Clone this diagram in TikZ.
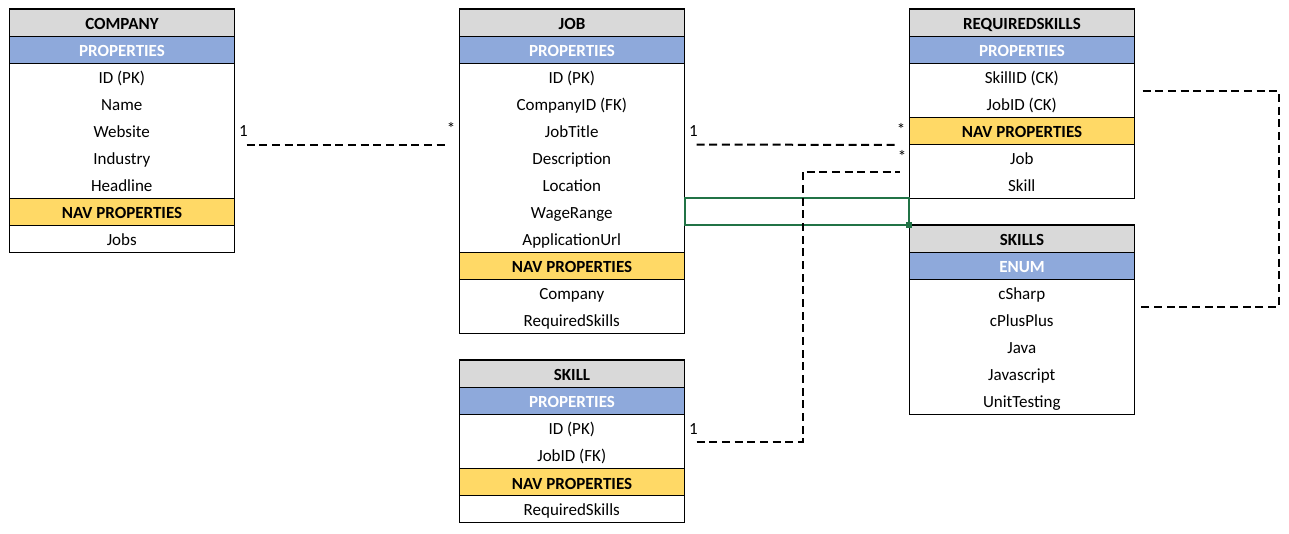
\documentclass[tikz,border=0pt]{standalone}
\usepackage{fontspec}
\setmainfont{Carlito}
\usetikzlibrary{positioning}
\definecolor{hdrgray}{HTML}{D9D9D9}
\definecolor{propblue}{HTML}{8EA9DB}
\definecolor{navyellow}{HTML}{FFD966}
\definecolor{selgreen}{HTML}{217346}
\newcommand\efont{\fontsize{12.75}{15}\selectfont}
\tikzset{
  ecell/.style={minimum width=168.75pt, minimum height=20.25pt, inner sep=0pt,
    anchor=north west, font=\efont, text=black, text depth=0pt},
  erow/.style={ecell},
  ehdr/.style={ecell, fill=hdrgray, draw=black, line width=0.75pt, font=\efont\bfseries},
  eprop/.style={ecell, fill=propblue, draw=black, line width=0.75pt, text=white, font=\efont\bfseries},
  enav/.style={ecell, fill=navyellow, draw=black, line width=0.75pt, font=\efont\bfseries},
  eborder/.style={draw=black, line width=0.75pt},
  rel/.style={draw=black, line width=1.5pt, dash pattern=on 6pt off 3.5pt},
  lbl/.style={inner sep=0pt, font=\efont, text=black},
  selbox/.style={draw=selgreen, line width=1.5pt}
}
% #1 name, #2 x, #3 y (px), #4 number of rows, #5 list style/text
\newcommand\ertable[5]{%
  \foreach \s/\t [count=\i] in {#5} {
    \node[\s] (#1-\i) at (#2, {#3+27*(\i-1)}) {\strut\t};
  }
  \draw[eborder] (#1-1.north west) rectangle (#1-#4.south east);
}
\begin{document}
\begin{tikzpicture}[x=0.75pt, y=-0.75pt]
\useasboundingbox[fill=white] (0,0) rectangle (1289,534);

\ertable{company}{9}{9}{9}{ehdr/COMPANY, eprop/PROPERTIES, erow/ID (PK), erow/Name, erow/Website, erow/Industry, erow/Headline, enav/NAV PROPERTIES, erow/Jobs}

\ertable{job}{459}{9}{12}{ehdr/JOB, eprop/PROPERTIES, erow/ID (PK), erow/CompanyID (FK), erow/JobTitle, erow/Description, erow/Location, erow/WageRange, erow/ApplicationUrl, enav/NAV PROPERTIES, erow/Company, erow/RequiredSkills}

\ertable{skill}{459}{360}{6}{ehdr/SKILL, eprop/PROPERTIES, erow/ID (PK), erow/JobID (FK), enav/NAV PROPERTIES, erow/RequiredSkills}

\ertable{rs}{909}{9}{7}{ehdr/REQUIREDSKILLS, eprop/PROPERTIES, erow/SkillID (CK), erow/JobID (CK), enav/NAV PROPERTIES, erow/Job, erow/Skill}

\ertable{skills}{909}{225}{7}{ehdr/SKILLS, eprop/ENUM, erow/cSharp, erow/cPlusPlus, erow/Java, erow/Javascript, erow/UnitTesting}

% selection rectangle
\draw[selbox] (job-8.north east) rectangle (skills-1.north west);
\fill[selgreen] ([xshift=-2.25pt,yshift=-2.25pt]skills-1.north west) rectangle ([xshift=2.25pt,yshift=2.25pt]skills-1.north west);

% Company - Job
\coordinate (a1) at ([xshift=9pt]company-5.south east);
\coordinate (a2) at ([xshift=-7.5pt]job-5.south west);
\draw[rel] (a1) -- (a2);
\node[lbl] (a1l) at ([xshift=-2.25pt,yshift=9.75pt]a1) {1};
\node[lbl] (a2l) at ([xshift=1.5pt,yshift=12pt]a2) {*};

% Job - RequiredSkills
\coordinate (d1) at ([xshift=9pt]job-5.south east);
\coordinate (d2) at ([xshift=-7.5pt]rs-5.south west);
\draw[rel] (d1) -- (d2);
\node[lbl] (d1l) at ([xshift=-2.25pt,yshift=9.75pt]d1) {1};
\node[lbl] (d2l) at ([xshift=1.5pt,yshift=12pt]d2) {*};

% Skill - RequiredSkills
\coordinate (b1) at ([xshift=9pt]skill-3.south east);
\coordinate (bx) at ([xshift=79.5pt]b1);
\coordinate (b2) at ([xshift=-6.75pt]rs-6.south west);
\draw[rel] (b1) -- (bx) |- (b2);
\node[lbl] (b1l) at ([xshift=-2.25pt,yshift=9.75pt]b1) {1};
\node[lbl] (b2l) at ([xshift=1.5pt,yshift=11.25pt]b2) {*};

% RequiredSkills - Skills
\coordinate (c1) at ([xshift=6pt]rs-3.south east);
\coordinate (cx) at ([xshift=102pt]c1);
\coordinate (c2) at ([xshift=4.5pt]skills-3.south east);
\draw[rel] (c1) -- (cx) |- (c2);
\end{tikzpicture}
\end{document}
